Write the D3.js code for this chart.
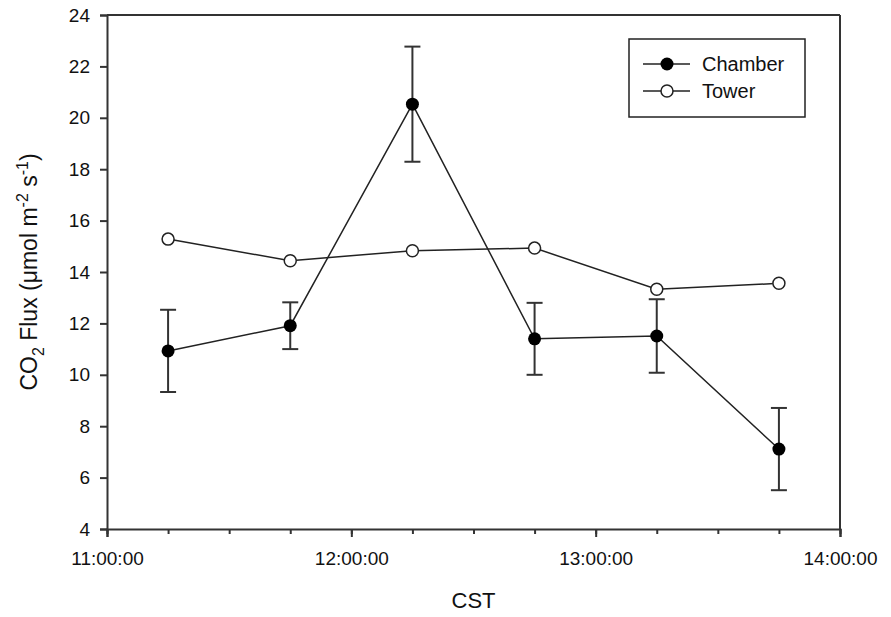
<!DOCTYPE html>
<html>
<head>
<meta charset="utf-8">
<script src="https://cdn.jsdelivr.net/npm/d3@7"></script>
<style>
  html, body { margin: 0; padding: 0; background: #fff; }
  svg { display: block; }
  svg text { font-family: Arial, "Liberation Sans", sans-serif; }
</style>
</head>
<body>
<svg id="chart" width="891" height="617"></svg>
<script>
// Sampling times (CST)
const times = ["11:15:00", "11:45:00", "12:15:00", "12:45:00", "13:15:00", "13:45:00"];
// Chamber CO2 flux mean and standard error (µmol m-2 s-1)
const chamber = [10.93, 11.91, 20.53, 11.40, 11.51, 7.11];
const chamberErr = [1.60, 0.91, 2.24, 1.40, 1.43, 1.60];
// Eddy covariance tower CO2 flux
const tower = [15.28, 14.44, 14.83, 14.93, 13.33, 13.56];
// Axis tick labels
const xTickLabels = ["11:00:00", "12:00:00", "13:00:00", "14:00:00"];
const yTicks = [4, 6, 8, 10, 12, 14, 16, 18, 20, 22, 24];
const seriesNames = ["Chamber", "Tower"];

const toHours = s => { const [h, m, sec] = s.split(":").map(Number); return h + m / 60 + sec / 3600; };

const svg = d3.select("#chart");
const margin = { left: 107, right: 51, top: 15, bottom: 88 };
const W = 891, H = 617;
const x = d3.scaleLinear().domain([11, 14]).range([margin.left, W - margin.right]);
const y = d3.scaleLinear().domain([4, 24]).range([H - margin.bottom, margin.top]);
const axisColor = "#333";
const font = "Arial, 'Liberation Sans', sans-serif";

// Frame: top and right edges
svg.append("line").attr("x1", x(11)).attr("x2", x(14)).attr("y1", y(24)).attr("y2", y(24))
  .attr("stroke", axisColor).attr("stroke-width", 2);
svg.append("line").attr("x1", x(14)).attr("x2", x(14)).attr("y1", y(24)).attr("y2", y(4))
  .attr("stroke", axisColor).attr("stroke-width", 2);

// Y axis
const yAxis = d3.axisLeft(y).tickValues(yTicks).tickSize(7).tickPadding(10).tickFormat(d3.format("d"));
const gy = svg.append("g").attr("transform", `translate(${x(11)},0)`).call(yAxis)
  .attr("font-family", font).attr("font-size", 19);
gy.select(".domain").attr("stroke", axisColor).attr("stroke-width", 2);
gy.selectAll(".tick line").attr("stroke", axisColor).attr("stroke-width", 2);
gy.selectAll(".tick text").attr("fill", "#111");

// X axis: minor ticks every 15 minutes, labelled ticks each hour
const minor = d3.range(0, 13).map(i => 11 + i * 0.25);
const gxMinor = svg.append("g").attr("transform", `translate(0,${y(4)})`)
  .call(d3.axisBottom(x).tickValues(minor).tickSize(5).tickFormat(""));
gxMinor.selectAll(".tick line").attr("stroke", axisColor).attr("stroke-width", 2);
gxMinor.select(".domain").remove();
const gx = svg.append("g").attr("transform", `translate(0,${y(4)})`)
  .call(d3.axisBottom(x).tickValues(xTickLabels.map(toHours)).tickSize(8).tickPadding(15)
    .tickFormat((d, i) => xTickLabels[i]))
  .attr("font-family", font).attr("font-size", 19);
gx.select(".domain").attr("stroke", axisColor).attr("stroke-width", 2);
gx.selectAll(".tick line").attr("stroke", axisColor).attr("stroke-width", 2);
gx.selectAll(".tick text").attr("fill", "#111");

// Axis titles
svg.append("text").attr("x", (x(11) + x(14)) / 2).attr("y", 608).attr("text-anchor", "middle")
  .attr("font-size", 22).attr("fill", "#111").text("CST");
const yt = svg.append("text").attr("transform", `translate(37,${(y(4) + y(24)) / 2}) rotate(-90)`)
  .attr("text-anchor", "middle").attr("font-size", 23).attr("fill", "#111");
yt.append("tspan").text("CO");
yt.append("tspan").attr("font-size", 16).attr("dy", 7).text("2");
yt.append("tspan").attr("dy", -7).text(" Flux (\u03bcmol m");
yt.append("tspan").attr("font-size", 16).attr("dy", -9).text("-2");
yt.append("tspan").attr("dy", 9).text(" s");
yt.append("tspan").attr("font-size", 16).attr("dy", -9).text("-1");
yt.append("tspan").attr("dy", 9).text(")");

const line = d3.line().x(d => x(d.t)).y(d => y(d.v));
const chamberData = times.map((t, i) => ({ t: toHours(t), v: chamber[i], e: chamberErr[i] }));
const towerData = times.map((t, i) => ({ t: toHours(t), v: tower[i] }));

// Chamber error bars
const eb = svg.append("g").attr("stroke", axisColor).attr("stroke-width", 2);
chamberData.forEach(d => {
  eb.append("line").attr("x1", x(d.t)).attr("x2", x(d.t)).attr("y1", y(d.v + d.e)).attr("y2", y(d.v - d.e));
  [d.v + d.e, d.v - d.e].forEach(v =>
    eb.append("line").attr("x1", x(d.t) - 8).attr("x2", x(d.t) + 8).attr("y1", y(v)).attr("y2", y(v)));
});

// Series lines
svg.append("path").datum(towerData).attr("d", line).attr("fill", "none").attr("stroke", "#222").attr("stroke-width", 1.5);
svg.append("path").datum(chamberData).attr("d", line).attr("fill", "none").attr("stroke", "#222").attr("stroke-width", 1.5);

// Markers
svg.append("g").selectAll("circle").data(towerData).join("circle")
  .attr("cx", d => x(d.t)).attr("cy", d => y(d.v)).attr("r", 6)
  .attr("fill", "#fff").attr("stroke", "#222").attr("stroke-width", 1.5);
svg.append("g").selectAll("circle").data(chamberData).join("circle")
  .attr("cx", d => x(d.t)).attr("cy", d => y(d.v)).attr("r", 6.5)
  .attr("fill", "#000");

// Legend
const lg = svg.append("g");
lg.append("rect").attr("x", 629).attr("y", 39).attr("width", 176).attr("height", 78)
  .attr("fill", "#fff").attr("stroke", "#222").attr("stroke-width", 1.5);
seriesNames.forEach((name, i) => {
  const ly = 64 + i * 27;
  lg.append("line").attr("x1", 643).attr("x2", 690).attr("y1", ly).attr("y2", ly)
    .attr("stroke", "#222").attr("stroke-width", 1.5);
  lg.append("circle").attr("cx", 667).attr("cy", ly).attr("r", i === 0 ? 6.5 : 6)
    .attr("fill", i === 0 ? "#000" : "#fff").attr("stroke", "#222").attr("stroke-width", i === 0 ? 0 : 1.5);
  lg.append("text").attr("x", 702).attr("y", ly + 7).attr("font-size", 20).attr("fill", "#111").text(name);
});
</script>
</body>
</html>
